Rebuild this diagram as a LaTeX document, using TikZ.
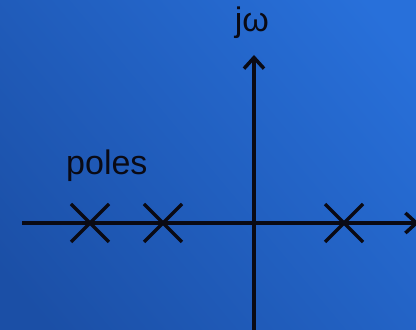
\documentclass[tikz,border=0pt]{standalone}
\usepackage{fontspec}
\setmainfont{Liberation Sans}
\usetikzlibrary{arrows.meta}
\definecolor{bgdark}{HTML}{1B4FA6}
\definecolor{bglight}{HTML}{2870DA}
\definecolor{ink}{HTML}{0A0A14}
\begin{document}
\begin{tikzpicture}[x=1pt,y=1pt,
  axis/.style={draw=ink,line width=3.5pt,-{Straight Barb[length=11pt,width=20pt,line width=3.5pt]}},
  pole/.style={draw=ink,line width=3.5pt},
  lbl/.style={text=ink,font=\fontsize{34}{38}\selectfont,inner sep=0pt}]
\useasboundingbox (0,0) rectangle (416,330);
\clip (0,0) rectangle (416,330);
\shade[top color=bglight,bottom color=bgdark,shading angle=-50] (-40,-40) rectangle (456,370);
\coordinate (xl) at (22,107);
\coordinate (xr) at (419,107);
\coordinate (yb) at (254,-2);
\coordinate (yt) at (254,275);
\draw[axis] (xl) -- (xr);
\draw[axis] (yb) -- (yt);
\foreach \n/\x in {p1/90,p2/163,p3/344}{
  \coordinate (\n) at (\x,107);
  \draw[pole] ([shift={(-19,-19)}]\n) -- ([shift={(19,19)}]\n);
  \draw[pole] ([shift={(-19,19)}]\n) -- ([shift={(19,-19)}]\n);
}
\node[lbl,anchor=base] (jw) at (252,298) {jω};
\node[lbl,anchor=base west] (poles) at (66,155) {poles};
\end{tikzpicture}
\end{document}
